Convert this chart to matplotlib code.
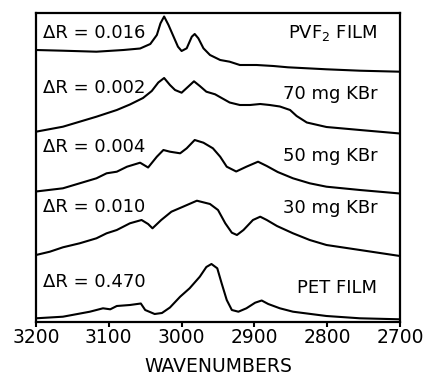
import numpy as np
import matplotlib
matplotlib.use("Agg")
import matplotlib.pyplot as plt

# wavenumbers (cm-1) and relative reflectance traces
pvf2_w = [3200, 3163, 3117, 3080, 3057, 3043, 3034, 3029, 3024, 3018, 3011, 3005,
          3000, 2993, 2986, 2982, 2977, 2970, 2961, 2947, 2934, 2920, 2897, 2874,
          2854, 2801, 2755, 2700]
pvf2_r = [1, 0.3, -0.7, 1, 2.5, 7, 16, 27.7, 34.5, 26, 14.3, 4.3,
          0, 2.7, 14.3, 17, 12.7, 2.7, -4, -9, -10.7, -14, -14, -15,
          -16.3, -18.3, -19.7, -20.7]

kbr70_w = [3200, 3163, 3117, 3089, 3071, 3053, 3041, 3032, 3024, 3016, 3009, 3000,
           2991, 2983, 2975, 2966, 2954, 2945, 2934, 2920, 2906, 2892, 2879, 2865,
           2851, 2842, 2828, 2801, 2755, 2700]
kbr70_r = [0, 5, 15, 21.7, 27.2, 33.7, 40.7, 49.2, 53.7, 46.7, 41.7, 39,
           45, 50.4, 45.7, 40, 37.4, 33.7, 29.2, 26.7, 26.7, 27.7, 26.7, 25.2,
           21.7, 15.7, 9.2, 4.7, 1.7, -1.8]

kbr50_w = [3200, 3163, 3140, 3117, 3103, 3089, 3075, 3057, 3046, 3034, 3025, 3016,
           3002, 2993, 2982, 2970, 2957, 2947, 2938, 2925, 2911, 2895, 2883, 2868,
           2847, 2824, 2801, 2755, 2700]
kbr50_r = [0, 3.2, 8.2, 13.2, 18.2, 19.8, 24.8, 28.8, 24, 34.8, 41.5, 39.8,
           38.2, 43.2, 51.5, 48.8, 43.2, 34.8, 24.8, 20, 24.8, 29.8, 25.5, 19.5,
           13.2, 8.2, 4.8, 1.5, -2]

kbr30_w = [3200, 3181, 3163, 3140, 3117, 3103, 3089, 3071, 3055, 3046, 3040, 3028,
           3014, 2998, 2979, 2961, 2950, 2940, 2931, 2924, 2915, 2902, 2892, 2883,
           2869, 2847, 2824, 2801, 2755, 2700]
kbr30_r = [0, 3.3, 7.7, 11.7, 16.7, 21.7, 25, 31.7, 35, 31, 26.7, 35,
           43.3, 48.3, 54.3, 51, 45, 31.7, 22.3, 20, 25, 35, 38.3, 35,
           29, 21.7, 15, 10, 5, -1]

pet_w = [3200, 3163, 3126, 3108, 3098, 3089, 3071, 3056, 3050, 3037, 3027, 3016,
         3002, 2989, 2975, 2966, 2959, 2951, 2945, 2938, 2931, 2922, 2911, 2899,
         2890, 2881, 2865, 2847, 2801, 2755, 2700]
pet_r = [0, 1.6, 6.6, 10, 9, 12.3, 13.3, 14.8, 8.3, 4.3, 5.3, 10.8,
         21.6, 30, 41.6, 51.3, 54.3, 50, 35, 18.3, 8.3, 6.6, 10, 15.6,
         17.8, 14.3, 10, 6.6, 2.3, 0, -1]

delta_r = ["0.016", "0.002", "0.004", "0.010", "0.470"]
sample_names = ["PVF$_2$ FILM", "70 mg KBr", "50 mg KBr", "30 mg KBr", "PET FILM"]
stack_offsets = [271, 190.3, 130.5, 67, 3.7]
xticks = [3200, 3100, 3000, 2900, 2800, 2700]

traces = [(pvf2_w, pvf2_r), (kbr70_w, kbr70_r), (kbr50_w, kbr50_r),
          (kbr30_w, kbr30_r), (pet_w, pet_r)]

fig = plt.figure(figsize=(4.31, 3.75), dpi=100)
ax = fig.add_axes([36 / 431, 53 / 375, 364 / 431, 309.5 / 375])

for (w, r), off in zip(traces, stack_offsets):
    ax.plot(w, np.array(r) + off, color="black", lw=1.5,
            solid_joinstyle="round", solid_capstyle="round")

# label baselines (same height units as the traces)
left_y = [283.7, 228.7, 169.7, 109.7, 35.3]
right_y = [283.7, 222.7, 161, 108.7, 28.7]
for dr, name, ly, ry in zip(delta_r, sample_names, left_y, right_y):
    ax.text(3191, ly, "\u0394R = " + dr, fontsize=13, va="baseline", ha="left")
    ax.text(2731, ry, name, fontsize=13, va="baseline", ha="right")

ax.set_xlim(3200, 2700)
ax.set_ylim(0, 309.5)
ax.set_xticks(xticks)
ax.set_xticklabels([str(t) for t in xticks], fontsize=13.5)
ax.set_yticks([])
ax.tick_params(axis="x", direction="out", length=3.5, width=1.5, pad=1)
for sp in ax.spines.values():
    sp.set_linewidth(1.6)
ax.set_xlabel("WAVENUMBERS", fontsize=13.5, labelpad=7)

fig.savefig("out.png", dpi=100)
